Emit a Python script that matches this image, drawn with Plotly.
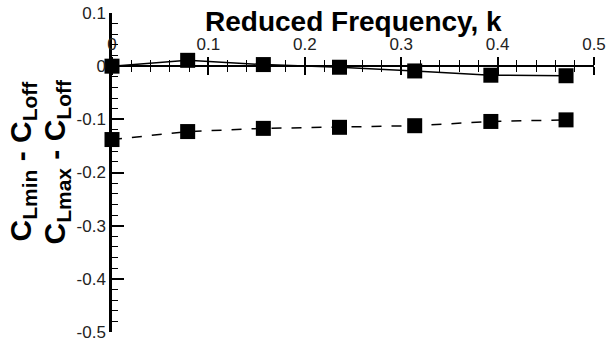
import plotly.graph_objects as go

k = [0.0, 0.0785, 0.157, 0.236, 0.314, 0.393, 0.471]
cl_max_off = [0.0, 0.011, 0.003, -0.002, -0.009, -0.017, -0.018]
cl_min_off = [-0.138, -0.123, -0.117, -0.115, -0.112, -0.104, -0.101]

x_ticks = [0, 0.1, 0.2, 0.3, 0.4, 0.5]
x_ticktext = ["0", "0.1", "0.2", "0.3", "0.4", "0.5"]
y_ticks = [0.1, 0, -0.1, -0.2, -0.3, -0.4, -0.5]
y_ticktext = ["0.1", "0", "-0.1", "-0.2", "-0.3", "-0.4", "-0.5"]

fig = go.Figure()
fig.add_trace(go.Scatter(x=k, y=cl_max_off, mode="lines+markers",
                         line=dict(color="black", width=1.5),
                         marker=dict(symbol="square", size=15, color="black"),
                         cliponaxis=False, showlegend=False))
fig.add_trace(go.Scatter(x=k, y=cl_min_off, mode="lines+markers",
                         line=dict(color="black", width=1.5, dash="10px,10px"),
                         marker=dict(symbol="square", size=15, color="black"),
                         cliponaxis=False, showlegend=False))
# invisible trace for secondary x axis (downward ticks)
fig.add_trace(go.Scatter(x=[0, 0.5], y=[0, 0], xaxis="x2", mode="none",
                         showlegend=False, hoverinfo="skip"))

yr = [-0.5, 0.1]
pos = (0 - yr[0]) / (yr[1] - yr[0])
font_tick = dict(family="Liberation Sans, Arial", size=17, color="#222")

fig.update_layout(
    width=606, height=347,
    margin=dict(l=112, r=12, t=13, b=15, autoexpand=False),
    paper_bgcolor="white", plot_bgcolor="white",
    xaxis=dict(range=[0, 0.5], anchor="free", position=pos, side="top",
               automargin=False,
               showgrid=False, zeroline=False, showline=True,
               linecolor="black", linewidth=2,
               tickvals=x_ticks, ticktext=x_ticktext,
               ticks="outside", ticklen=8, tickwidth=2, tickcolor="black",
               minor=dict(dtick=0.02, ticks="outside", ticklen=5, tickwidth=1.2, tickcolor="black"),
               tickfont=font_tick),
    xaxis2=dict(range=[0, 0.5], anchor="free", position=pos, side="bottom",
                overlaying="x", automargin=False,
                showgrid=False, zeroline=False, showline=False,
                tickvals=x_ticks, showticklabels=False,
                ticks="outside", ticklen=8, tickwidth=2, tickcolor="black",
                minor=dict(dtick=0.02, ticks="outside", ticklen=5, tickwidth=1.2, tickcolor="black")),
    yaxis=dict(range=yr, automargin=False,
               showgrid=False, zeroline=False, showline=True,
               linecolor="black", linewidth=2.5,
               tickvals=y_ticks, ticktext=y_ticktext,
               ticks="inside", ticklen=12, tickwidth=2, tickcolor="black",
               minor=dict(dtick=0.02, ticks="inside", ticklen=6, tickwidth=1.2, tickcolor="black"),
               tickfont=font_tick),
    annotations=[
        dict(text="<b>Reduced Frequency, k</b>", xref="paper", yref="paper",
             x=0.5, y=1.0, xanchor="center", yanchor="middle", yshift=-8,
             showarrow=False, font=dict(family="Liberation Sans, Arial", size=28, color="black")),
        dict(text="<b>C<sub>Lmin</sub> - C<sub>Loff</sub></b>", xref="paper", yref="paper",
             x=0, y=0.5, xshift=-90, yshift=11, textangle=-90, xanchor="center", yanchor="middle",
             showarrow=False, font=dict(family="Liberation Sans, Arial", size=30, color="black")),
        dict(text="<b>C<sub>Lmax</sub> - C<sub>Loff</sub></b>", xref="paper", yref="paper",
             x=0, y=0.5, xshift=-56, yshift=11, textangle=-90, xanchor="center", yanchor="middle",
             showarrow=False, font=dict(family="Liberation Sans, Arial", size=30, color="black")),
    ],
)

fig.write_html("out.html")
